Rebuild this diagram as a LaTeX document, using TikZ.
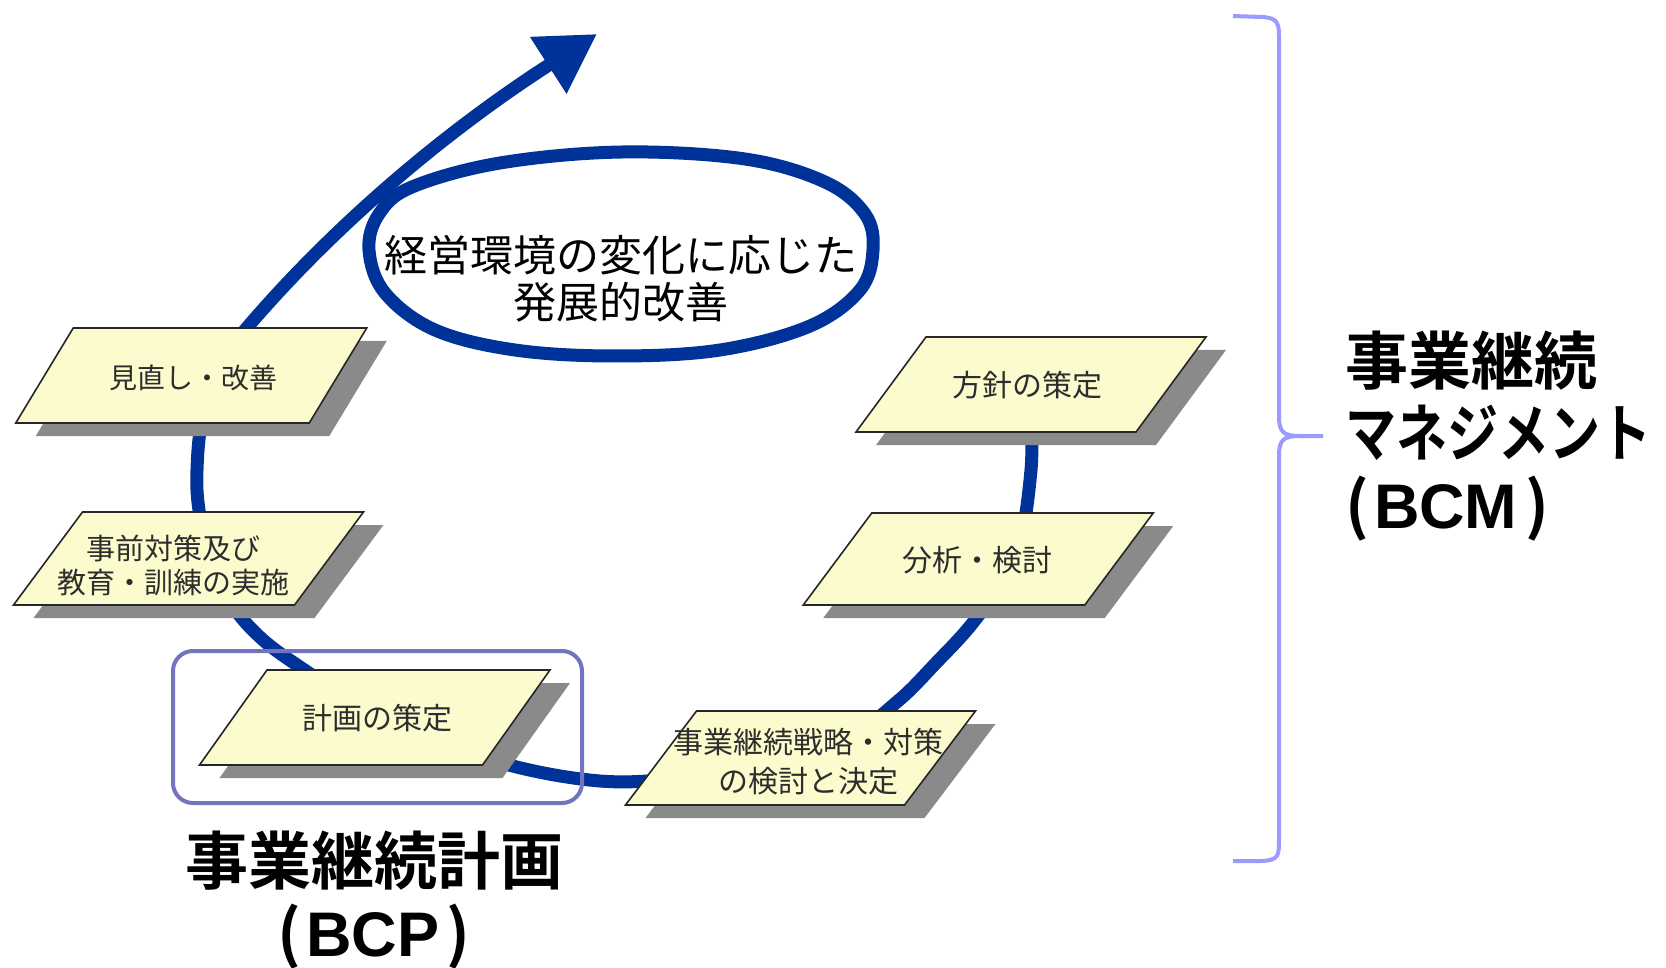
\documentclass[tikz,border=0pt]{standalone}
\usepackage{fontspec}
\usetikzlibrary{arrows.meta,calc}
\newfontfamily\jpp{Noto Sans CJK JP}[CharacterWidth=Proportional]
\newfontfamily\jpr{Noto Sans CJK JP}
\newfontfamily\jpb{Noto Sans CJK JP}[UprightFont={* Bold},CharacterWidth=Proportional]
\newfontfamily\jpbf{Noto Sans CJK JP}[UprightFont={* Bold}]
\newfontfamily\lsb{Liberation Sans}[UprightFont={* Bold}]
\definecolor{cyc}{RGB}{0,51,153}
\definecolor{boxfill}{RGB}{252,251,206}
\definecolor{shadowc}{RGB}{138,138,138}
\definecolor{bcpc}{RGB}{115,115,190}
\definecolor{bcmc}{RGB}{155,155,255}
\definecolor{txtc}{RGB}{45,45,45}
\newcommand{\prlbox}[5]{%
  \pgfmathsetmacro\prlA{#1-#3/2+#5/2}%
  \pgfmathsetmacro\prlB{#1+#3/2+#5/2}%
  \pgfmathsetmacro\prlC{#1+#3/2-#5/2}%
  \pgfmathsetmacro\prlD{#1-#3/2-#5/2}%
  \pgfmathsetmacro\prlT{#2-#4/2}%
  \pgfmathsetmacro\prlU{#2+#4/2}%
  \fill[shadowc] (\prlA+20,\prlT+13) -- (\prlB+20,\prlT+13) -- (\prlC+20,\prlU+13) -- (\prlD+20,\prlU+13) -- cycle;
  \draw[boxline] (\prlA,\prlT) -- (\prlB,\prlT) -- (\prlC,\prlU) -- (\prlD,\prlU) -- cycle;
}
\begin{document}
\begin{tikzpicture}[x=1pt,y=-1pt,
  boxline/.style={fill=boxfill,draw=black!85,line width=1.6pt,line join=miter},
  boxtext/.style={inner sep=0pt,text=txtc,font=\jpp\fontsize{30}{36}\selectfont,align=center},
  cycline/.style={draw=cyc,line width=13pt},
  biglabel/.style={inner sep=0pt,font=\jpbf\fontsize{63}{72}\selectfont},
]
\fill[white] (0,0) rectangle (1666,968);
\useasboundingbox (0,0) rectangle (1666,968);

% cycle arrow
\coordinate (arrowtip) at (597,34);
\draw[cycline,-{Triangle[length=58pt,width=64pt]}] plot[smooth,tension=0.6] coordinates {
  (1030,400) (1031,470) (1015,560) (975,620) (935,664) (898,701) (850,735)
  (760,765) (680,778) (600,781) (505,764) (420,732) (345,695) (300,667) (262,639)
  (232,605) (210,560) (199,510) (197,470) (202,420) (218,370) (245,330)}
  .. controls (330,230) and (440,135) .. (arrowtip);

% ellipse (slightly fuller at the upper left)
\draw[cycline] plot[smooth cycle,tension=0.6] coordinates {
  (369,250) (379,214) (412,187) (500,163) (622,152) (745,159) (825,182)
  (865,214) (873,250) (860,290) (810,326) (720,350) (615,356) (515,350)
  (435,330) (385,293)};
\node[inner sep=0pt,align=center,font=\jpr\fontsize{43}{47}\selectfont] (goal) at (621,279)
  {経営環境の変化に応じた\\発展的改善};

% parallelograms
\prlbox{191.25}{375.5}{293.5}{95}{57.5}
\prlbox{188.5}{558.5}{281}{93}{69}
\prlbox{374.75}{717.5}{283}{95}{67.5}
\prlbox{1031}{384.5}{280}{95}{70}
\prlbox{978.25}{559}{281.5}{92}{68.5}
\prlbox{800.5}{758}{279}{94}{71}

\node[boxtext,font=\jpp\fontsize{28}{34}\selectfont] (t1) at (193,378) {見直し・改善};
\node[boxtext,font=\jpp\fontsize{29}{34}\selectfont] (t2) at (173,565) {事前対策及び\\教育・訓練の実施};
\node[boxtext] (t3) at (377,718) {計画の策定};
\node[boxtext] (t4) at (1027,385) {方針の策定};
\node[boxtext] (t5) at (977,560) {分析・検討};
\node[boxtext,font=\jpp\fontsize{30}{39}\selectfont] (t6) at (808,762) {事業継続戦略・対策\\の検討と決定};

% BCP frame
\draw[draw=bcpc,line width=4pt,rounded corners=20pt] (173,651) rectangle (582,803);
\node[biglabel,align=center] (bcp) at (374,900)
  {事業継続計画\\{\jpb （}\kern5pt{\lsb BCP}\kern7pt{\jpb ）}};

% BCM brace
\coordinate (brT) at (1233,16);
\coordinate (brB) at (1233,861);
\coordinate (brM) at (1323,436);
\draw[bcmc,line width=4pt] (brT) -- (1262,17) .. controls (1279,18) and (1279,24) .. (1279,40)
  -- (1279,416) .. controls (1279,432) and (1283,436) .. (1300,436) -- (brM);
\draw[bcmc,line width=4pt] (1300,436) .. controls (1283,436) and (1279,440) .. (1279,456)
  -- (1279,838) .. controls (1279,856) and (1279,860) .. (1262,861) -- (brB);
\node[biglabel,align=left,anchor=west] (bcm) at (1345,436)
  {事業継続\\\scalebox{0.81}[1]{\jpb マネジメント}\\{\jpb （}\kern5pt{\lsb BCM}\kern8pt{\jpb ）}};
\end{tikzpicture}
\end{document}
